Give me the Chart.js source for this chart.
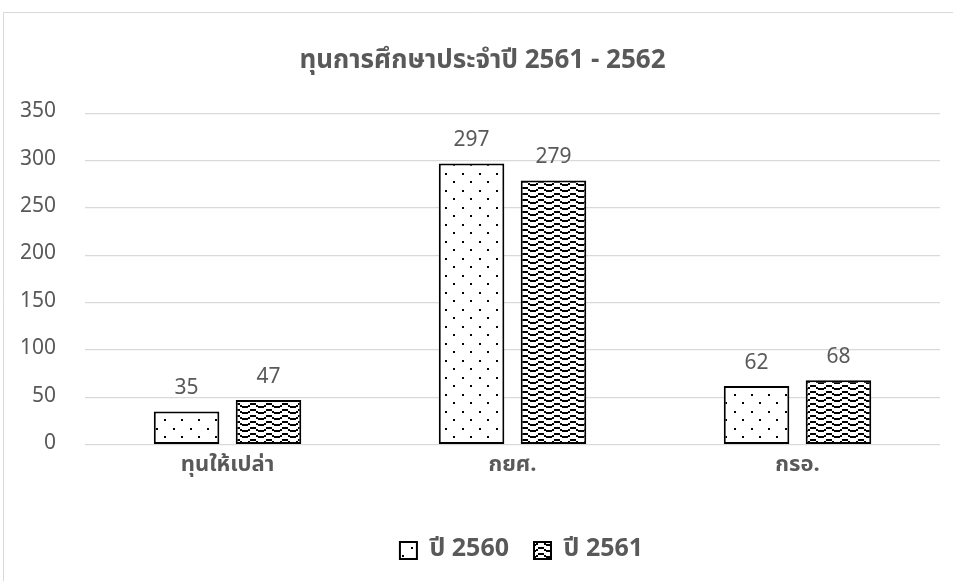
<!DOCTYPE html>
<html>
<head>
<meta charset="utf-8">
<script src="https://cdn.jsdelivr.net/npm/chart.js@4"></script>
<style>
  html, body { margin: 0; padding: 0; background: #fff; }
  #wrap { position: absolute; left: 0; top: 0; width: 953px; height: 581px; }
</style>
</head>
<body>
<div id="wrap"><canvas id="myChart" width="953" height="581"></canvas></div>
<script>
//////////////////////////////////// INPUTS

var categories = ['ทุนให้เปล่า', 'กยศ.', 'กรอ.'];
var series2560 = [35, 297, 62];
var series2561 = [47, 279, 68];
var seriesNames = ['ปี 2560', 'ปี 2561'];
var titleText = 'ทุนการศึกษาประจำปี 2561 - 2562';

var yMin = 0;
var yMax = 350;
var yStep = 50;

var thaiFont = "'Leelawadee UI', Leelawadee, Tahoma, 'Noto Sans Thai', 'Noto Sans', 'DejaVu Sans', sans-serif";
var grey = '#595959';

//////////////////////////////////// Patterns

// dotted fill (ปี 2560)
function dotPattern() {
    var c = document.createElement('canvas');
    c.width = 17; c.height = 17;
    var g = c.getContext('2d');
    g.fillStyle = '#fff';
    g.fillRect(0, 0, 17, 17);
    g.fillStyle = '#000';
    g.fillRect(3, 3, 2, 2);
    g.fillRect(11, 11, 2, 2);
    return g.createPattern(c, 'repeat');
}

// wavy fill (ปี 2561)
function wavePattern() {
    var c = document.createElement('canvas');
    c.width = 16; c.height = 6;
    var g = c.getContext('2d');
    g.fillStyle = '#fff';
    g.fillRect(0, 0, 16, 6);
    g.fillStyle = '#000';
    for (var x = 0; x < 16; x += 2) {
        var y = Math.round(2.5 + 1.6 * Math.sin(x / 16 * Math.PI * 2));
        g.fillRect(x, y, 2, 2);
    }
    return g.createPattern(c, 'repeat');
}

//////////////////////////////////// Plugins

// light frame round the chart
const framePlugin = {
    id: 'frame',
    beforeDraw(chart) {
        const ctx = chart.ctx;
        ctx.save();
        ctx.strokeStyle = '#d9d9d9';
        ctx.lineWidth = 1;
        ctx.beginPath();
        ctx.moveTo(3.5, chart.height);
        ctx.lineTo(3.5, 12.5);
        ctx.lineTo(chart.width, 12.5);
        ctx.stroke();
        ctx.restore();
    }
};

// title and legend sit a bit right of the plot centre in the original
const shiftBoxes = {
    id: 'shiftBoxes',
    afterLayout(chart) {
        if (chart.titleBlock) {
            chart.titleBlock.left += 17;
            chart.titleBlock.right += 17;
        }
        if (chart.legend) {
            chart.legend.left += 56;
            chart.legend.right += 56;
        }
    }
};

// value labels above each bar
const valueLabels = {
    id: 'valueLabels',
    afterDatasetsDraw(chart) {
        const ctx = chart.ctx;
        ctx.save();
        ctx.fillStyle = grey;
        ctx.font = '21px ' + thaiFont;
        ctx.textAlign = 'center';
        ctx.textBaseline = 'bottom';
        chart.data.datasets.forEach(function (ds, i) {
            chart.getDatasetMeta(i).data.forEach(function (bar, j) {
                ctx.fillText(ds.data[j], bar.x, bar.y - 11);
            });
        });
        ctx.restore();
    }
};

//////////////////////////////////// Chart

const data = {
    labels: categories,
    datasets: [
        {
            label: seriesNames[0],
            data: series2560,
            backgroundColor: dotPattern(),
            borderColor: '#000',
            borderWidth: 2,
            borderSkipped: false,
            barPercentage: 0.8,
            categoryPercentage: 0.575,
        },
        {
            label: seriesNames[1],
            data: series2561,
            backgroundColor: wavePattern(),
            borderColor: '#000',
            borderWidth: 2,
            borderSkipped: false,
            barPercentage: 0.8,
            categoryPercentage: 0.575,
        },
    ],
};

const config = {
    type: 'bar',
    data,
    options: {
        responsive: false,
        animation: false,
        layout: {
            padding: { left: -9, right: 13, top: 47, bottom: 8 }
        },
        scales: {
            x: {
                grid: { display: false },
                border: { display: false },
                ticks: {
                    color: grey,
                    padding: 1,
                    font: { size: 22, weight: 'bold', family: thaiFont }
                },
                // room between category labels and legend
                afterFit(scale) { scale.height += 32; }
            },
            y: {
                min: yMin,
                max: yMax,
                border: { display: false },
                grid: { color: '#d9d9d9', lineWidth: 1.3, drawTicks: false },
                ticks: {
                    stepSize: yStep,
                    color: grey,
                    padding: 29,
                    font: { size: 21, family: thaiFont }
                }
            }
        },
        plugins: {
            title: {
                display: true,
                text: titleText,
                color: grey,
                font: { size: 26, weight: 'bold', family: thaiFont },
                padding: { top: 0, bottom: 35 }
            },
            legend: {
                position: 'bottom',
                labels: {
                    color: grey,
                    boxWidth: 17,
                    boxHeight: 17,
                    padding: 25,
                    font: { size: 25, weight: 'bold', family: thaiFont }
                }
            },
            tooltip: { enabled: false }
        }
    },
    plugins: [framePlugin, shiftBoxes, valueLabels]
};

var myChart = new Chart(document.getElementById('myChart'), config);
</script>
</body>
</html>
